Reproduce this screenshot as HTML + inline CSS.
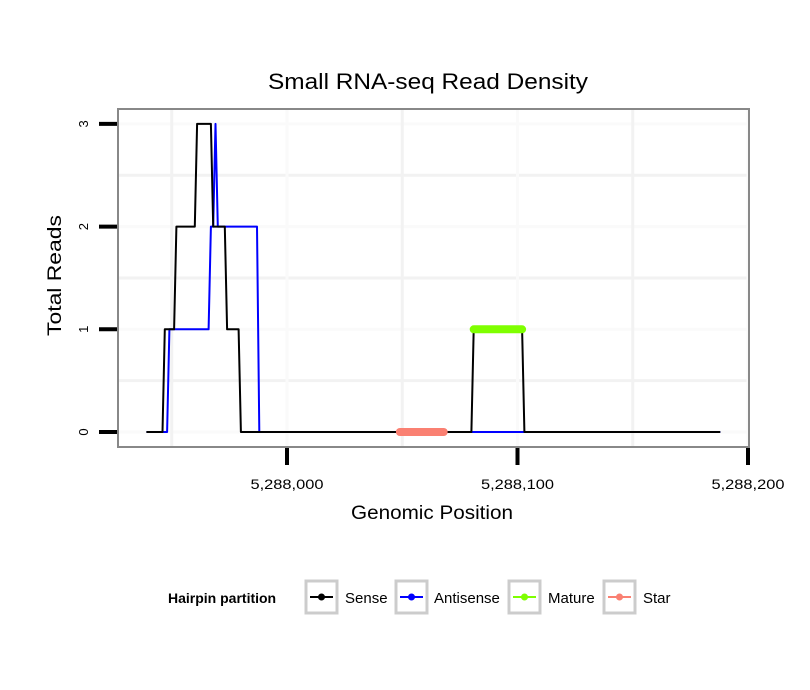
<!DOCTYPE html>
<html><head><meta charset="utf-8"><style>
body{margin:0;background:#fff;}
svg{display:block;font-family:"Liberation Sans",sans-serif;}
</style></head><body>
<svg id="chart" width="810" height="690" viewBox="0 0 810 690">
<rect width="810" height="690" fill="#fff"/>
<text x="268" y="89" font-size="22" textLength="320" lengthAdjust="spacingAndGlyphs">Small RNA-seq Read Density</text>
<g id="grid"></g>
<g id="series"></g>
<rect x="118" y="109" width="631" height="338" fill="none" stroke="#888" stroke-width="2"/>
<g id="axes"></g>
<text x="351" y="519" font-size="19" textLength="162" lengthAdjust="spacingAndGlyphs">Genomic Position</text>
<text transform="translate(61,336) rotate(-90)" font-size="19" textLength="121" lengthAdjust="spacingAndGlyphs">Total Reads</text>
<g>
<text x="168" y="603" font-size="14" font-weight="bold">Hairpin partition</text>
<g><rect x="306" y="581" width="31" height="32" fill="#fff" stroke="#ccc" stroke-width="3"/><line x1="310" y1="597" x2="333" y2="597" stroke="#000" stroke-width="2"/><circle cx="321.5" cy="597" r="3.5" fill="#000"/><text x="345" y="603" font-size="15">Sense</text></g>
<g><rect x="396" y="581" width="31" height="32" fill="#fff" stroke="#ccc" stroke-width="3"/><line x1="400" y1="597" x2="423" y2="597" stroke="#0000ff" stroke-width="2"/><circle cx="411.5" cy="597" r="3.5" fill="#0000ff"/><text x="434" y="603" font-size="15">Antisense</text></g>
<g><rect x="509" y="581" width="31" height="32" fill="#fff" stroke="#ccc" stroke-width="3"/><line x1="513" y1="597" x2="536" y2="597" stroke="#7fff00" stroke-width="2"/><circle cx="524.5" cy="597" r="3.5" fill="#7fff00"/><text x="548" y="603" font-size="15">Mature</text></g>
<g><rect x="604" y="581" width="31" height="32" fill="#fff" stroke="#ccc" stroke-width="3"/><line x1="608" y1="597" x2="631" y2="597" stroke="#fa8072" stroke-width="2"/><circle cx="619.5" cy="597" r="3.5" fill="#fa8072"/><text x="643" y="603" font-size="15">Star</text></g>
</g>
</svg>
<script>
const BASE = 5288000;
const senseX = [-61,-54,-53,-49,-48,-40,-39,-33,-32,-27,-26,-21,-20,80,81,102,103,188];
const senseY = [0,0,1,1,2,2,3,3,2,2,1,1,0,0,1,1,0,0];
const antiX = [-61,-52,-51,-34,-33,-32,-31,-30,-13,-12,188];
const antiY = [0,0,1,1,2,2,3,2,2,0,0];
const matureX = [81,102];
const matureY = [1,1];
const starX = [49,68];
const starY = [0,0];
const xTicks = [5288000,5288100,5288200];
const xTickLabels = ["5,288,000","5,288,100","5,288,200"];
const yTicks = [0,1,2,3];

const NS = "http://www.w3.org/2000/svg";
function sx(v){ return 287 + (v - BASE) * 2.305; }
function sy(v){ return 432 - v * 102.7; }
function mk(tag, attrs, parent){ const e=document.createElementNS(NS,tag); for(const k in attrs) e.setAttribute(k,attrs[k]); parent.appendChild(e); return e; }

const grid=document.getElementById('grid');
const series=document.getElementById('series');
const axes=document.getElementById('axes');
for(let i=0;i<yTicks.length;i++){
  const g=mk('line',{x1:118,x2:749,y1:sy(yTicks[i]),y2:sy(yTicks[i]),stroke:'#fafafa','stroke-width':3},grid);
  
  
  if(i<yTicks.length-1){
    const m=mk('line',{x1:118,x2:749,y1:sy(yTicks[i]+0.5),y2:sy(yTicks[i]+0.5),stroke:'#f2f2f2','stroke-width':3},grid);
    
    
  }
}
for(let i=0;i<xTicks.length;i++){
  const g=mk('line',{x1:sx(xTicks[i]),x2:sx(xTicks[i]),y1:109,y2:447,stroke:'#fafafa','stroke-width':3},grid);
  
  
  const m=mk('line',{x1:sx(xTicks[i]-50),x2:sx(xTicks[i]-50),y1:109,y2:447,stroke:'#f2f2f2','stroke-width':3},grid);
  
  
}
function path(xs,ys,color,w,cap,name){
  let d='';
  for(let i=0;i<xs.length;i++) d+=(i?'L':'M')+sx(BASE+xs[i]).toFixed(1)+','+sy(ys[i]).toFixed(1);
  const p=mk('path',{d:d,fill:'none',stroke:color,'stroke-width':w,'stroke-linecap':cap,'stroke-linejoin':'round'},series);
  
  
}
path(antiX,antiY,'#0000ff',2,'butt','antisense-line');
path(senseX,senseY,'#000',2,'butt','sense-line');
path(matureX,matureY,'#7fff00',8,'round','mature-line');
path(starX,starY,'#fa8072',8,'round','star-line');

for(let i=0;i<yTicks.length;i++){
  const t=mk('line',{x1:99,x2:117,y1:sy(yTicks[i]),y2:sy(yTicks[i]),stroke:'#000','stroke-width':4},axes);
  
  
  const y=sy(yTicks[i]);
  const l=mk('text',{transform:'translate(88,'+y+') rotate(-90)','font-size':13,'text-anchor':'middle'},axes);
  l.textContent=String(yTicks[i]);
  
  
}
for(let i=0;i<xTicks.length;i++){
  const x=sx(xTicks[i]);
  const t=mk('line',{x1:x,x2:x,y1:448,y2:465,stroke:'#000','stroke-width':4},axes);
  
  
  const l=mk('text',{x:x-36.5,y:489,'font-size':14,textLength:73,lengthAdjust:'spacingAndGlyphs'},axes);
  l.textContent=xTickLabels[i];
  
  
}
</script>
</body></html>
